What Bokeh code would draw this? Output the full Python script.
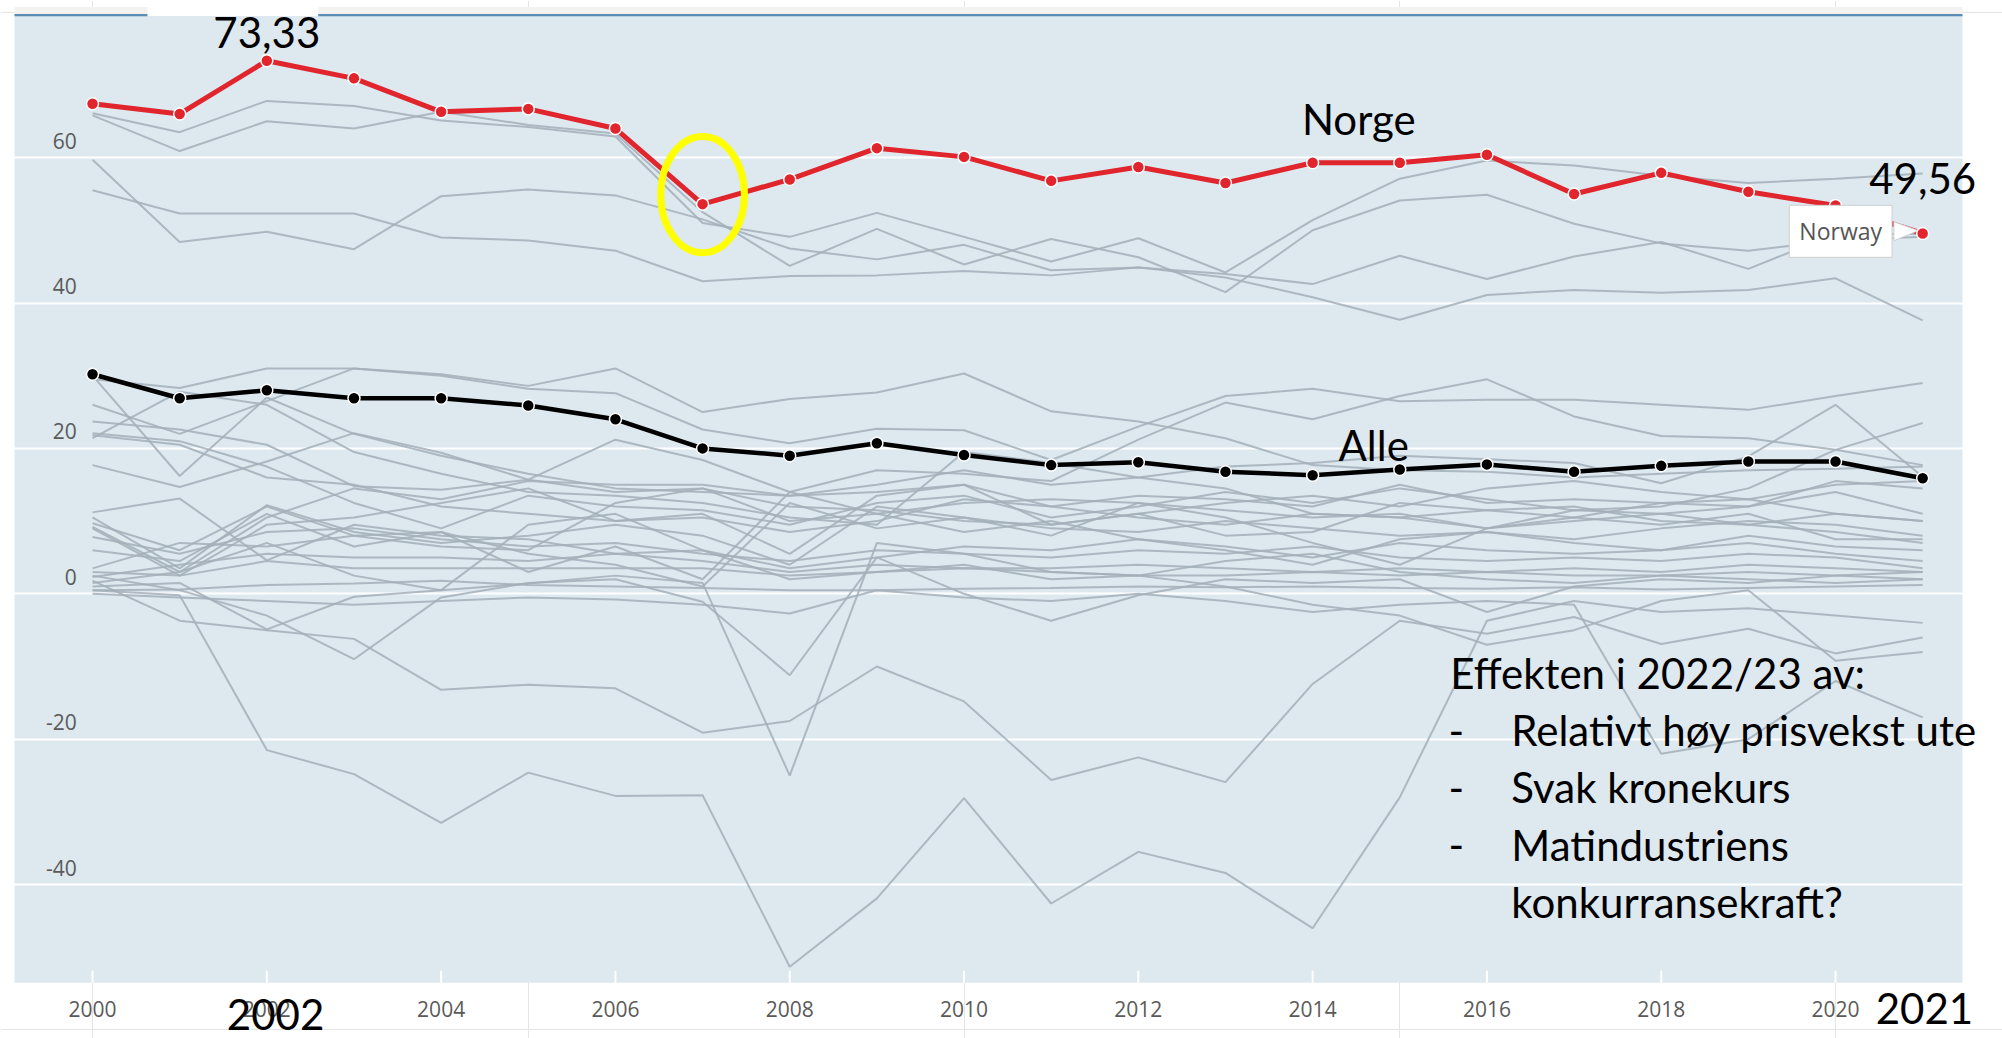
from bokeh.plotting import figure
from bokeh.models import FixedTicker, Grid, Label, Range1d, BoxAnnotation
from bokeh.embed import file_html
from bokeh.resources import INLINE
from bokeh.core.properties import value

# ---------------- data ----------------
years = list(range(2000, 2022))

norge = [67.4, 66.0, 73.33, 70.9, 66.3, 66.7, 64.0, 53.6, 57.0, 61.3, 60.1,
         56.8, 58.7, 56.5, 59.3, 59.3, 60.4, 55.0, 57.9, 55.3, 53.4, 49.56]
alle = [30.2, 26.9, 28.0, 26.9, 26.9, 25.9, 24.0, 20.0, 19.0, 20.7, 19.1,
        17.7, 18.1, 16.8, 16.3, 17.1, 17.8, 16.8, 17.6, 18.2, 18.2, 15.9]

# other countries (grey lines), upper group
upper_1 = [66.1, 63.5, 67.8, 67.1, 65.1, 64.2, 62.9, 51.0, 49.1, 52.4, 49.1,
           45.7, 48.9, 44.2, 51.4, 57.1, 59.6, 58.9, 57.5, 56.5, 57.1, 57.8]
upper_2 = [65.8, 60.9, 65.0, 64.0, 66.3, 64.5, 63.3, 52.5, 45.1, 50.2, 45.3,
           48.8, 46.3, 41.5, 50.0, 54.1, 54.9, 50.9, 48.2, 47.2, 48.6, 49.1]
upper_3 = [59.7, 48.4, 49.8, 47.4, 54.7, 55.6, 54.8, 51.5, 47.5, 46.0, 48.0,
           44.5, 44.9, 44.0, 42.6, 46.5, 43.3, 46.4, 48.4, 44.7, 49.5, 49.5]
upper_4 = [55.5, 52.3, 52.3, 52.3, 49.0, 48.6, 47.2, 43.0, 43.7, 43.8, 44.4,
           43.8, 44.9, 43.5, 40.8, 37.7, 41.1, 41.8, 41.4, 41.8, 43.4, 37.6]

# middle group
mid_1 = [29.5, 28.3, 31.0, 31.0, 30.2, 28.6, 31.0, 25.0, 26.8, 27.7, 30.3,
         25.1, 23.7, 21.4, 17.7, 17.0, 16.8, 16.0, 16.5, 17.0, 17.2, 17.5]
mid_2 = [26.0, 22.0, 26.5, 31.0, 30.0, 28.2, 27.6, 22.6, 20.7, 22.7, 22.5,
         18.4, 23.0, 27.2, 28.2, 26.5, 26.7, 26.7, 26.0, 25.3, 27.2, 29.0]
mid_3 = [23.7, 22.6, 20.5, 14.8, 14.3, 15.7, 21.2, 18.4, 14.0, 17.0, 16.5,
         15.5, 21.2, 26.3, 24.0, 27.2, 29.5, 24.4, 21.7, 21.4, 19.8, 17.7]
mid_4 = [30.0, 16.2, 27.0, 22.0, 19.0, 16.5, 14.5, 14.0, 13.5, 15.0, 17.0,
         15.0, 16.0, 17.5, 18.0, 19.0, 18.5, 18.0, 15.2, 18.9, 26.0, 16.1]
mid_5 = [22.1, 21.0, 17.5, 12.5, 9.0, 13.5, 12.0, 11.5, 9.5, 12.5, 13.5,
         10.5, 12.0, 14.0, 12.5, 14.5, 13.0, 11.5, 12.0, 14.5, 19.8, 23.5]
mid_6 = [21.8, 20.5, 16.0, 15.0, 12.0, 11.0, 10.0, 10.5, 8.5, 10.0, 13.0,
         12.0, 10.5, 9.5, 11.0, 10.5, 11.5, 12.0, 10.0, 9.5, 11.0, 10.0]
mid_7 = [21.4, 27.8, 26.0, 19.5, 16.5, 14.0, 13.5, 12.5, 10.5, 9.5, 19.5,
         18.0, 16.0, 14.5, 11.0, 10.5, 9.0, 11.5, 11.0, 9.5, 8.5, 7.0]
mid_8 = [17.7, 14.7, 18.2, 22.1, 19.4, 15.7, 14.0, 14.5, 12.0, 11.5, 10.0,
         9.5, 11.0, 12.5, 13.5, 12.0, 14.5, 15.5, 14.0, 13.0, 15.0, 15.5]
mid_9 = [11.2, 13.1, 4.6, 9.5, 8.0, 7.5, 5.5, 6.0, 3.5, 5.0, 6.5,
         6.0, 7.5, 6.5, 5.0, 7.0, 6.0, 5.5, 6.0, 7.0, 5.5, 4.5]
mid_10 = [10.5, 3.5, 12.2, 8.5, 7.0, 8.0, 9.5, 8.0, 4.0, 12.0, 10.5,
          9.0, 8.5, 10.0, 9.0, 8.0, 8.5, 7.5, 9.0, 10.0, 9.5, 8.0]
mid_11 = [9.7, 6.0, 12.0, 8.0, 6.5, 6.0, 12.5, 14.5, 10.0, 11.0, 12.5,
          13.0, 12.5, 11.5, 10.5, 11.0, 9.0, 10.0, 11.0, 12.0, 14.0, 11.0]
mid_12 = [9.2, 3.0, 10.5, 14.5, 13.0, 15.5, 15.0, 15.0, 13.5, 14.0, 15.0,
          12.0, 13.5, 13.0, 12.0, 15.0, 12.5, 13.0, 12.5, 12.0, 15.5, 14.5]
mid_13 = [7.8, 5.5, 8.5, 9.0, 7.5, 6.5, 7.0, 5.5, 4.5, 6.0, 5.5,
          5.0, 6.0, 5.5, 6.5, 5.0, 4.5, 5.0, 4.5, 5.5, 5.0, 3.5]
mid_14 = [6.0, 4.5, 11.0, 6.5, 8.5, 3.0, 6.5, 2.0, 14.0, 11.0, 8.5,
          10.0, 7.5, 6.0, 4.0, 7.5, 8.5, 7.0, 6.0, 8.0, 6.5, 6.0]
mid_15 = [3.5, 7.0, 6.5, 8.0, 8.5, 5.5, 4.0, 1.0, 12.5, 9.0, 10.5,
          8.0, 12.5, 10.5, 7.0, 4.0, 9.0, 10.5, 9.5, 11.0, 7.5, 7.5]
mid_16 = [3.0, 2.5, 4.5, 3.5, 3.5, 3.5, 3.5, 3.5, 2.5, 3.0, 3.5,
          3.0, 2.5, 2.5, 3.0, 2.5, 3.0, 2.5, 2.5, 3.0, 2.5, 3.0]
mid_17 = [2.3, 4.0, 5.5, 5.0, 5.0, 4.5, 5.5, 4.5, 3.0, 4.0, 3.5,
          3.5, 4.0, 3.5, 3.0, 3.5, 3.0, 3.5, 3.0, 4.0, 3.5, 3.0]
mid_18 = [0.5, 0.6, 1.2, 1.4, 1.8, 1.2, 1.0, 0.8, 0.5, 0.5, 0.7,
          0.8, 1.0, 0.9, 1.0, 0.8, 0.7, 0.9, 0.6, 0.8, 1.0, 1.2]
mid_19 = [1.5, 3.0, 7.0, 2.5, 0.5, 9.5, 11.0, 6.0, 2.0, 3.0, 4.0,
          2.0, 2.5, 4.5, 5.5, 3.0, 2.0, 1.5, 2.5, 2.0, 1.5, 2.0]
mid_20 = [9.0, 2.5, 9.5, 10.5, 12.5, 14.5, 10.0, 11.0, 5.5, 13.5, 15.0,
          9.5, 11.0, 8.0, 8.5, 12.5, 11.5, 10.5, 12.5, 13.0, 11.0, 10.0]

# lower (negative) group
low_1 = [0.5, -0.2, -21.5, -24.8, -31.5, -24.6, -27.8, -27.7, -51.3, -41.9, -28.1,
         -42.6, -35.5, -38.4, -46.0, -28.0, -3.7, -1.0, -2.5, -2.0, -3.0, -4.0]
low_2 = [1.8, -3.7, -5.0, -6.2, -13.2, -12.5, -13.0, -19.1, -17.5, -10.0, -14.8,
         -25.6, -22.5, -25.9, -12.4, -3.7, -5.5, -3.2, -6.9, -4.8, -8.2, -6.0]
low_3 = [2.5, 0.5, -3.0, -9.0, -0.5, 1.5, 2.0, -1.1, -11.2, 5.0, 0.0,
         -3.7, -0.2, 2.0, 1.5, 2.0, -2.5, 1.0, 2.0, 1.5, 2.5, 2.0]
low_4 = [1.0, 1.5, -4.9, -0.4, 0.5, 1.4, 2.5, 1.5, -25.0, 7.0, 5.5,
         3.0, 2.5, 1.0, -1.5, -3.0, -7.0, -5.0, -1.0, 0.5, -9.2, -8.0]
low_5 = [0.0, -0.5, -1.0, -1.5, -1.0, -0.5, -0.8, -1.5, -2.7, 0.5, -0.5,
         -1.0, 0.0, -1.0, -2.5, -1.5, -1.0, -1.5, -22.0, -20.0, -12.0, -17.0]

grey_series = [upper_1, upper_2, upper_3, upper_4,
               mid_1, mid_2, mid_3, mid_4, mid_5, mid_6, mid_7, mid_8, mid_9, mid_10,
               mid_11, mid_12, mid_13, mid_14, mid_15, mid_16, mid_17, mid_18, mid_19, mid_20,
               low_1, low_2, low_3, low_4, low_5]

y_ticks = [-40, -20, 0, 20, 40, 60]
y_tick_labels = ["-40", "-20", "0", "20", "40", "60"]
x_ticks = list(range(2000, 2021, 2))
x_tick_labels = [str(t) for t in x_ticks]

bullets = ["Relativt høy prisvekst ute", "Svak kronekurs", "Matindustriens"]

# ---------------- styling / geometry ----------------
AX_FONT = "Open Sans"
ANN_FONT = "Lato"
BG = "#dde8ef"
GREY = "#a3afb8"
RED = "#e1252d"

# plotting panel (light blue box) extent, in data units
PX0, PX1 = 1999.105, 2021.457
PY0, PY1 = -53.5, 79.75
RAISE = 2.06   # baseline correction for the big annotation labels

p = figure(width=2002, height=1038,
           x_range=Range1d(1998.944, 2021.916), y_range=Range1d(-61.17, 81.61),
           x_axis_location=None, y_axis_location=None,
           output_backend="svg", toolbar_location=None,
           min_border_left=0, min_border_right=0, min_border_top=0, min_border_bottom=0)
p.background_fill_color = "white"
p.border_fill_color = "white"
p.outline_line_color = None

# light-blue panel + white grid
p.add_layout(BoxAnnotation(left=PX0, right=PX1, bottom=PY0, top=PY1, level="underlay",
                           fill_color=BG, fill_alpha=1.0, line_alpha=0))
p.add_layout(Grid(dimension=1, ticker=FixedTicker(ticks=y_ticks),
                  grid_line_color="white", grid_line_width=2))

# thin beige band and blue rule on top of the panel
p.add_layout(BoxAnnotation(left=PX0, right=PX1, bottom=PY1, top=PY1 + 0.95,
                           fill_color="#f4f2ee", fill_alpha=1.0, line_alpha=0))
p.add_layout(BoxAnnotation(left=PX0, right=PX1, bottom=PY1 - 0.3, top=PY1,
                           fill_color="#5b8cb3", fill_alpha=1.0, line_alpha=0))
p.add_layout(BoxAnnotation(left=2000.63, right=2002.59, bottom=PY1 - 0.35, top=PY1 + 0.95,
                           fill_color="white", fill_alpha=1.0, line_alpha=0))

# x ticks (white, inside the panel) and x tick labels
p.segment(x0=x_ticks, y0=[PY0] * len(x_ticks), x1=x_ticks, y1=[PY0 + 1.65] * len(x_ticks),
          line_color="white", line_width=2)
p.text(x=x_ticks, y=[-57.15] * len(x_ticks), text=x_tick_labels,
       text_font=value(AX_FONT), text_font_size="21px", text_color="#5a5a5a",
       text_align="center", text_baseline="alphabetic")

# y tick labels (inside the panel)
p.text(x=[1999.82] * len(y_ticks), y=y_ticks, text=y_tick_labels,
       text_font=value(AX_FONT), text_font_size="21px", text_color="#5a5a5a",
       text_align="right", text_baseline="alphabetic", y_offset=-17)

# grey country lines
p.multi_line(xs=[years] * len(grey_series), ys=grey_series,
             line_color=GREY, line_width=2, line_alpha=0.85)

# Alle (average)
p.line(years, alle, line_color="black", line_width=4.5)
p.scatter(years, alle, size=12, fill_color="black", line_color="white", line_width=1.5)

# Norge
p.line(years, norge, line_color=RED, line_width=5)

# tooltip pointer
n_last = norge[-1]
x_last = years[-1]
p.patch([x_last - 0.33, x_last - 0.05, x_last - 0.33],
        [n_last + 1.6, n_last + 0.4, n_last - 1.0],
        fill_color="white", line_color="#d0d0d0", line_width=1)

p.scatter(years, norge, size=12, fill_color=RED, line_color="white", line_width=1.5)

# yellow highlight around 2007
p.ellipse(x=[years[7]], y=[norge[7] + 1.3], width=0.96, height=16.0,
          fill_color=None, line_color="#ffff00", line_width=7)

# tooltip box
p.add_layout(Label(x=x_last, y=n_last + 0.3, x_offset=-82, text="Norway",
                   text_align="center", text_baseline="middle",
                   text_font=AX_FONT, text_font_size="23px", text_color="#555555",
                   background_fill_color="white", border_line_color="#d0d0d0",
                   padding=10))


def ann(x, y, text, align="left", size="42px"):
    p.add_layout(Label(x=x, y=y + RAISE, text=text, text_align=align,
                       text_baseline="alphabetic",
                       text_font=ANN_FONT, text_font_size=size, text_color="black"))


ann(years[2], 75.1, "73,33", "center")
ann(2014.53, 63.3, "Norge", "center")
ann(years[-1], 55.1, "49,56", "center")
ann(2014.70, 18.4, "Alle", "center")
ann(2015.58, -12.9, "Effekten i 2022/23 av:")
for i, b in enumerate(bullets):
    yy = -20.8 - 7.9 * i
    ann(2015.56, yy, "-")
    ann(2016.28, yy, b)
ann(2016.28, -44.5, "konkurransekraft?")
ann(2002.10, -59.9, "2002", "center")
ann(2021.02, -59.1, "2021", "center")

open("out.html", "w").write(file_html(p, INLINE))
